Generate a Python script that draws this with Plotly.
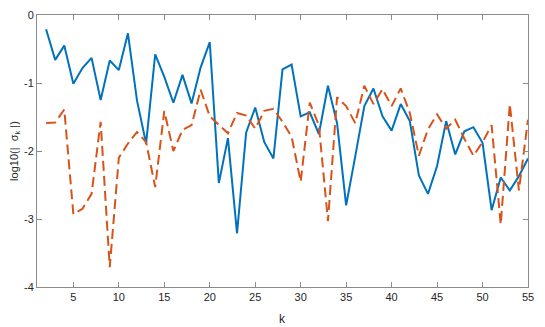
import plotly.graph_objects as go

k = list(range(2, 56))

sigma_a = [-0.21, -0.66, -0.45, -1.01, -0.78, -0.63, -1.25, -0.67, -0.81, -0.27,
           -1.26, -1.89, -0.58, -0.91, -1.29, -0.88, -1.30, -0.77, -0.40, -2.47,
           -1.81, -3.21, -1.73, -1.36, -1.87, -2.11, -0.80, -0.73, -1.49, -1.43,
           -1.75, -1.04, -1.59, -2.80, -2.08, -1.34, -1.08, -1.49, -1.70, -1.31,
           -1.56, -2.36, -2.63, -2.22, -1.56, -2.05, -1.71, -1.65, -1.88, -2.87,
           -2.39, -2.58, -2.37, -2.11]

sigma_b = [-1.59, -1.58, -1.39, -2.93, -2.85, -2.63, -1.57, -3.71, -2.10, -1.89,
           -1.72, -1.87, -2.53, -1.41, -2.00, -1.69, -1.62, -1.10, -1.49, -1.62,
           -1.74, -1.44, -1.48, -1.67, -1.41, -1.38, -1.57, -1.79, -2.45, -1.29,
           -1.62, -3.03, -1.21, -1.34, -1.59, -1.04, -1.31, -1.09, -1.34, -1.08,
           -1.44, -2.07, -1.68, -1.46, -1.67, -1.54, -1.82, -2.07, -1.87, -1.62,
           -3.08, -1.31, -2.58, -1.54]

x_ticks = [5, 10, 15, 20, 25, 30, 35, 40, 45, 50, 55]
y_ticks = [-4, -3, -2, -1, 0]
y_ticktext = ["-4", "-3", "-2", "-1", "0"]

FONT = "Liberation Sans Narrow, Liberation Sans, Arial"

fig = go.Figure()
fig.add_trace(go.Scatter(x=k, y=sigma_a, mode="lines",
                         line=dict(color="#0072BD", width=2)))
fig.add_trace(go.Scatter(x=k, y=sigma_b, mode="lines",
                         line=dict(color="#D95319", width=2, dash="10px,5px")))

axis_style = dict(
    showgrid=False, zeroline=False, automargin=False,
    showline=True, linecolor="#8c8c8c", linewidth=1, mirror="ticks",
    ticks="inside", ticklen=5, tickcolor="#8c8c8c",
    tickfont=dict(family=FONT, size=11, color="#262626"),
)

# page body has an 8px margin, so the figure is a bit smaller than the window
fig.update_layout(
    width=537, height=319,
    margin=dict(l=29, r=17, t=7, b=40),
    paper_bgcolor="white", plot_bgcolor="white",
    showlegend=False,
    font=dict(family=FONT, color="#262626"),
    xaxis=dict(range=[1, 55], tickvals=x_ticks, **axis_style),
    yaxis=dict(range=[-4, 0], tickvals=y_ticks, ticktext=y_ticktext, **axis_style),
)

# axis titles placed by hand so the plot area keeps its size
fig.add_annotation(
    text="log10(|  σ<sub>k</sub> |)", textangle=-90,
    xref="paper", yref="paper", x=-0.045, y=0.5,
    xanchor="center", yanchor="middle", showarrow=False,
    font=dict(family=FONT, size=11, color="#262626"),
)
fig.add_annotation(
    text="k", xref="paper", yref="paper", x=0.5, y=-0.117,
    xanchor="center", yanchor="middle", showarrow=False,
    font=dict(family=FONT, size=12, color="#262626"),
)

fig.write_html("out.html")
